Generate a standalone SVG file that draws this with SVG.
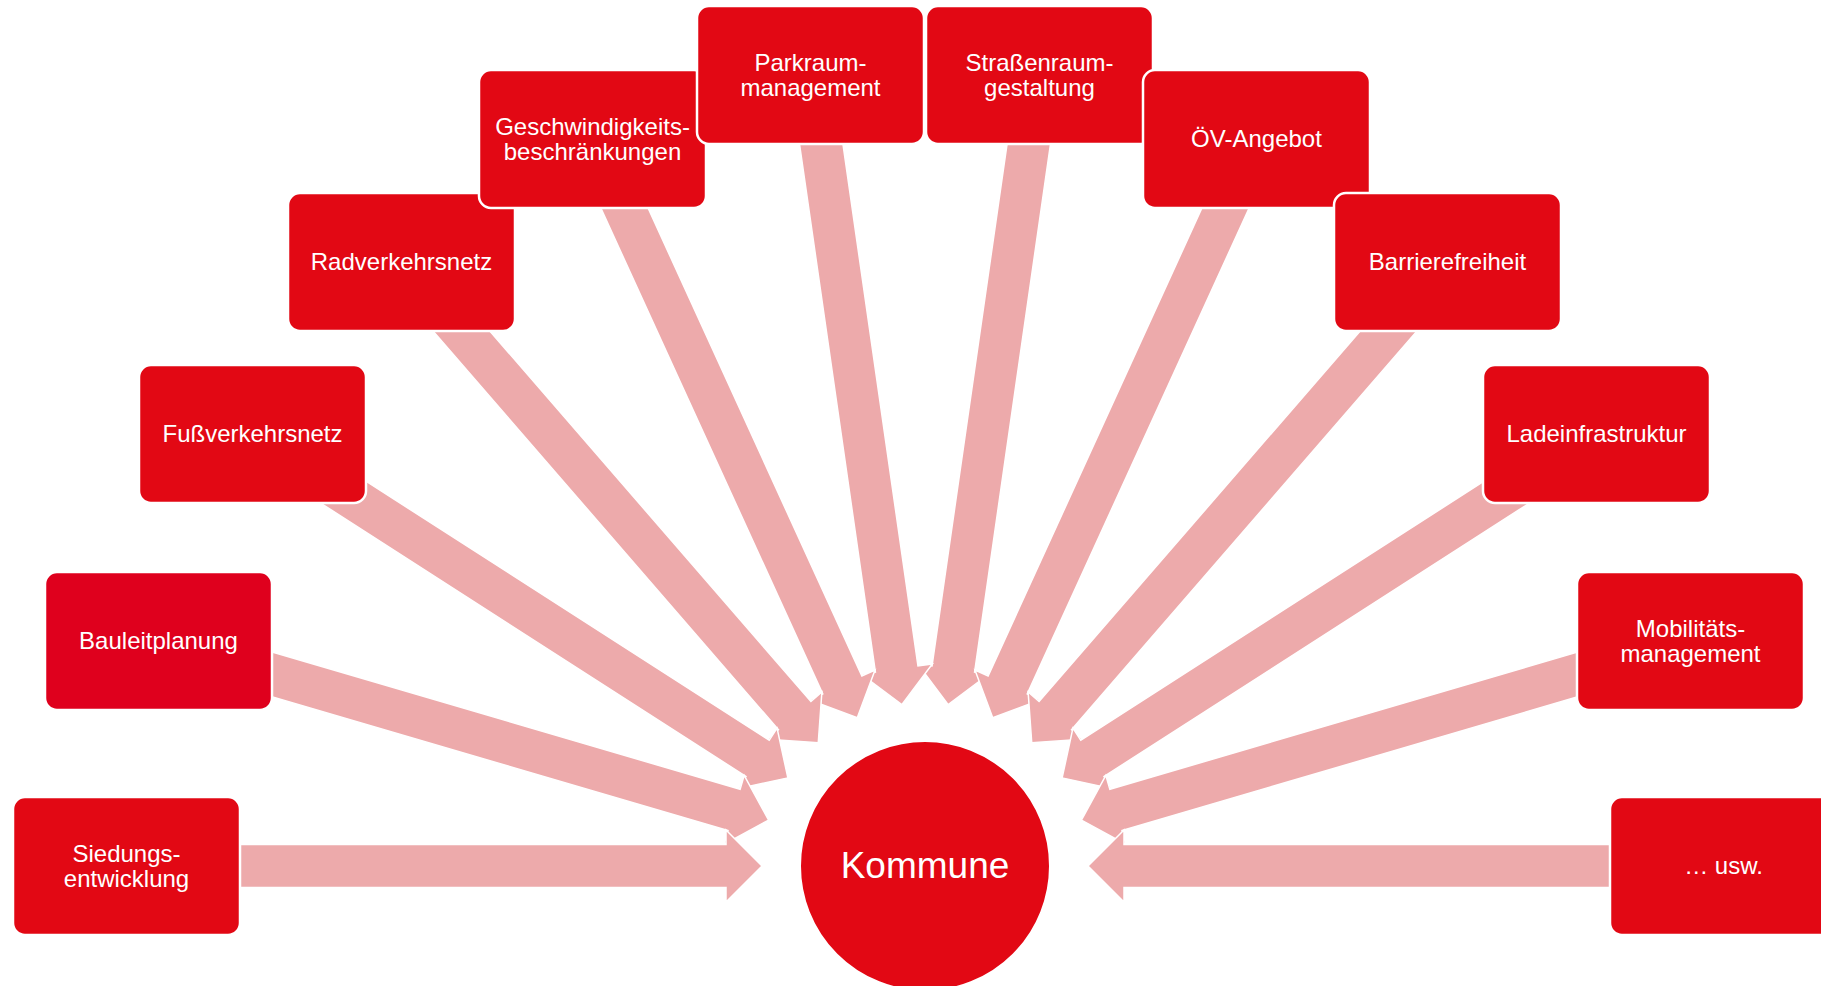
<svg xmlns="http://www.w3.org/2000/svg" xmlns:xlink="http://www.w3.org/1999/xlink" width="1821" height="986" viewBox="0 0 1821 986">
<style>
.box{fill:#E20814;stroke:#FFFFFF;stroke-width:2.5}
.box2{fill:#DF001D;stroke:#FFFFFF;stroke-width:2.5}
.arr{fill:#EDAAAB;stroke:#FFFFFF;stroke-width:1.5;stroke-linejoin:miter}
.t{font-family:"Liberation Sans",Arial,sans-serif;font-size:24px;fill:#FFFFFF;text-anchor:middle}
.tk{font-family:"Liberation Sans",Arial,sans-serif;font-size:37px;fill:#FFFFFF;text-anchor:middle}
</style>
<defs>
<polygon id="arrow" points="-799,-21.5 -199,-21.5 -199,-36 -163,0 -199,36 -199,21.5 -799,21.5"/>
</defs>
<rect width="1821" height="986" fill="#FFFFFF"/>
<g id="connectors">
<use xlink:href="#arrow" class="arr" transform="translate(925 866) rotate(98.18)"/>
<use xlink:href="#arrow" class="arr" transform="translate(925 866) rotate(81.82)"/>
<use xlink:href="#arrow" class="arr" transform="translate(925 866) rotate(114.55)"/>
<use xlink:href="#arrow" class="arr" transform="translate(925 866) rotate(65.45)"/>
<use xlink:href="#arrow" class="arr" transform="translate(925 866) rotate(130.91)"/>
<use xlink:href="#arrow" class="arr" transform="translate(925 866) rotate(49.09)"/>
<use xlink:href="#arrow" class="arr" transform="translate(925 866) rotate(147.27)"/>
<use xlink:href="#arrow" class="arr" transform="translate(925 866) rotate(32.73)"/>
<use xlink:href="#arrow" class="arr" transform="translate(925 866) rotate(163.64)"/>
<use xlink:href="#arrow" class="arr" transform="translate(925 866) rotate(16.36)"/>
<use xlink:href="#arrow" class="arr" transform="translate(925 866) rotate(180)"/>
<use xlink:href="#arrow" class="arr" transform="translate(925 866) rotate(0)"/>
</g>
<g id="n-siedung">
<rect class="box" x="13" y="797" width="227" height="138" rx="12"/>
<text class="t" x="126.5" y="862">Siedungs-</text>
<text class="t" x="126.5" y="887">entwicklung</text>
</g>
<g id="n-bauleit">
<rect class="box2" x="45" y="572" width="227" height="138" rx="12"/>
<text class="t" x="158.5" y="649">Bauleitplanung</text>
</g>
<g id="n-fuss">
<rect class="box" x="139" y="365" width="227" height="138" rx="12"/>
<text class="t" x="252.5" y="442">Fußverkehrsnetz</text>
</g>
<g id="n-rad">
<rect class="box" x="288" y="193" width="227" height="138" rx="12"/>
<text class="t" x="401.5" y="270">Radverkehrsnetz</text>
</g>
<g id="n-geschw">
<rect class="box" x="479" y="70" width="227" height="138" rx="12"/>
<text class="t" x="592.5" y="135">Geschwindigkeits-</text>
<text class="t" x="592.5" y="160">beschränkungen</text>
</g>
<g id="n-parkraum">
<rect class="box" x="697" y="6" width="227" height="138" rx="12"/>
<text class="t" x="810.5" y="71">Parkraum-</text>
<text class="t" x="810.5" y="96">management</text>
</g>
<g id="n-strassen">
<rect class="box" x="926" y="6" width="227" height="138" rx="12"/>
<text class="t" x="1039.5" y="71">Straßenraum-</text>
<text class="t" x="1039.5" y="96">gestaltung</text>
</g>
<g id="n-oev">
<rect class="box" x="1143" y="70" width="227" height="138" rx="12"/>
<text class="t" x="1256.5" y="147">ÖV-Angebot</text>
</g>
<g id="n-barriere">
<rect class="box" x="1334" y="193" width="227" height="138" rx="12"/>
<text class="t" x="1447.5" y="270">Barrierefreiheit</text>
</g>
<g id="n-lade">
<rect class="box" x="1483" y="365" width="227" height="138" rx="12"/>
<text class="t" x="1596.5" y="442">Ladeinfrastruktur</text>
</g>
<g id="n-mobil">
<rect class="box" x="1577" y="572" width="227" height="138" rx="12"/>
<text class="t" x="1690.5" y="637">Mobilitäts-</text>
<text class="t" x="1690.5" y="662">management</text>
</g>
<g id="n-usw">
<rect class="box" x="1610" y="797" width="227" height="138" rx="12"/>
<text class="t" x="1723.5" y="874">… usw.</text>
</g>
<g id="n-kommune">
<circle cx="925" cy="866" r="125" fill="#E20814" stroke="#FFFFFF" stroke-width="2"/>
<text class="tk" x="925" y="878">Kommune</text>
</g>
</svg>
